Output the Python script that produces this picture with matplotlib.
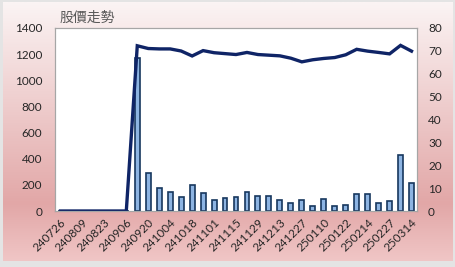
import numpy as np
import matplotlib.pyplot as plt
from matplotlib.colors import LinearSegmentedColormap

plt.rcParams['font.family'] = ['Lato', 'Noto Sans CJK TC', 'DejaVu Sans']

dates = ['240726', '240802', '240809', '240816', '240823', '240830', '240906',
         '240913', '240920', '240927', '241004', '241011', '241018', '241025',
         '241101', '241108', '241115', '241122', '241129', '241206', '241213',
         '241220', '241227', '250103', '250110', '250117', '250122', '250207',
         '250214', '250221', '250227', '250307', '250314']

# closing price (left axis)
price = [0, 0, 0, 0, 0, 0, 0,
         1264, 1243, 1240, 1240, 1224, 1186, 1227, 1211, 1204, 1197, 1213,
         1197, 1192, 1187, 1169, 1141, 1157, 1167, 1174, 1195, 1237, 1223,
         1213, 1202, 1267, 1223]

# volume (right axis)
volume = [0, 0, 0, 0, 0, 0, 0,
          67, 16.5, 10.2, 8.4, 6.3, 11.2, 7.7, 4.8, 5.5, 6.2, 8.2,
          6.5, 6.5, 4.8, 3.6, 4.8, 2.2, 5.4, 2.2, 2.5, 7.3, 7.6,
          3.6, 4.5, 24.6, 12.4]

fig = plt.figure(figsize=(4.55, 2.67), dpi=100, facecolor='#e4e4e4')

# gradient background of the chart area
bg = fig.add_axes([0.006, 0.022, 0.988, 0.97])
cmap = LinearSegmentedColormap.from_list('bg', [(0, '#fbf4f4'), (0.78, '#e2a7a7'), (1, '#f0c6c6')])
bg.imshow(np.linspace(0, 1, 256).reshape(-1, 1), aspect='auto', cmap=cmap,
          extent=[0, 1, 0, 1], origin='upper')
bg.axis('off')

ax = fig.add_axes([55 / 455, 1 - 211 / 267, 362 / 455, 183 / 267])
ax2 = ax.twinx()
ax.set_zorder(ax2.get_zorder() + 1)
ax.patch.set_visible(False)
ax2.patch.set_visible(True)
ax2.patch.set_facecolor('white')

x = np.arange(len(dates))
ax2.bar(x, volume, width=0.45, color='#8db4e2', edgecolor='#17375e', linewidth=1.2)
ax.plot(x, price, color='#0f2466', linewidth=2.4, solid_joinstyle='miter')

ax.set_xlim(-0.5, len(dates) - 0.5)
ax.set_ylim(0, 1400)
ax2.set_ylim(0, 80)
ax.set_yticks(range(0, 1401, 200))
ax2.set_yticks(range(0, 81, 10))
ax.set_xticks(x[::2])
ax.set_xticklabels(dates[::2], rotation=45, ha='right', rotation_mode='anchor')

for a in (ax, ax2):
    a.tick_params(length=0, labelsize=8.5, colors='#262626')
    for s in a.spines.values():
        s.set_color('#a6a6a6')
        s.set_linewidth(0.8)
ax.tick_params(axis='x', pad=4)
ax2.tick_params(axis='y', pad=8)
ax.tick_params(axis='y', pad=9)

fig.text(60 / 455, 1 - 18 / 267, '股價走勢', fontsize=10, color='#595959', va='center',
         family=['Noto Sans CJK TC', 'DejaVu Sans'])

fig.savefig('out.png', dpi=100, facecolor=fig.get_facecolor())
